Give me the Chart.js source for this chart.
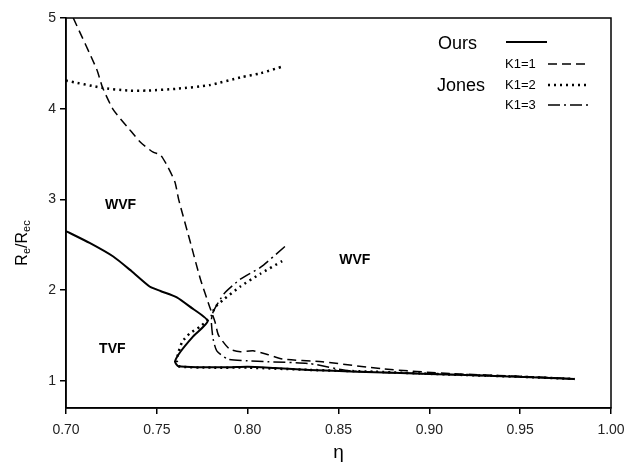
<!DOCTYPE html>
<html>
<head>
<meta charset="utf-8">
<script src="https://cdn.jsdelivr.net/npm/chart.js@4.4.1/dist/chart.umd.min.js"></script>
<style>
  html, body { margin: 0; padding: 0; background: #fff; }
</style>
</head>
<body>
<canvas id="chart" width="625" height="470"></canvas>
<script>
// axis ticks
const xTicks = [0.70, 0.75, 0.80, 0.85, 0.90, 0.95, 1.00];
const yTicks = [1, 2, 3, 4, 5];

// Ours (solid)
const oursEta = [0.700, 0.713, 0.726, 0.736, 0.746, 0.752, 0.761, 0.768, 0.778, 0.770, 0.763, 0.760, 0.762, 0.774, 0.790, 0.800, 0.815, 0.834, 0.860, 0.900, 0.940, 0.980];
const oursRe  = [2.65, 2.52, 2.37, 2.21, 2.04, 1.99, 1.92, 1.82, 1.66, 1.49, 1.32, 1.21, 1.16, 1.15, 1.15, 1.155, 1.14, 1.12, 1.10, 1.075, 1.05, 1.02];

// Jones K1=1 (dashed)
const k1Eta = [0.704, 0.717, 0.720, 0.726, 0.735, 0.741, 0.748, 0.752, 0.756, 0.760, 0.762, 0.768, 0.774, 0.779, 0.782, 0.784, 0.790, 0.796, 0.803, 0.811, 0.819, 0.841, 0.875, 0.911, 0.950, 0.980];
const k1Re  = [5.00, 4.43, 4.24, 3.99, 3.77, 3.63, 3.52, 3.49, 3.36, 3.19, 3.00, 2.56, 2.12, 1.82, 1.65, 1.50, 1.35, 1.32, 1.33, 1.29, 1.24, 1.21, 1.13, 1.08, 1.05, 1.02];

// Jones K1=2 (dotted), upper curve and lower branch
const k2TopEta = [0.700, 0.720, 0.734, 0.745, 0.761, 0.779, 0.797, 0.807, 0.820];
const k2TopRe  = [4.31, 4.23, 4.20, 4.20, 4.22, 4.26, 4.35, 4.39, 4.47];
const k2Eta = [0.819, 0.807, 0.796, 0.787, 0.782, 0.780, 0.774, 0.768, 0.764, 0.762, 0.761, 0.762, 0.780, 0.800, 0.834, 0.870, 0.910, 0.950, 0.980];
const k2Re  = [2.32, 2.18, 2.04, 1.90, 1.81, 1.71, 1.60, 1.52, 1.43, 1.32, 1.22, 1.16, 1.145, 1.145, 1.12, 1.10, 1.07, 1.045, 1.02];

// Jones K1=3 (dash-dot)
const k3Eta = [0.8205, 0.807, 0.796, 0.787, 0.781, 0.780, 0.781, 0.783, 0.789, 0.800, 0.811, 0.834, 0.856, 0.911, 0.950, 0.980];
const k3Re  = [2.48, 2.25, 2.12, 1.96, 1.76, 1.66, 1.46, 1.33, 1.24, 1.22, 1.21, 1.19, 1.11, 1.07, 1.045, 1.02];

// region labels
const regionText = ['WVF', 'TVF', 'WVF'];
const regionEta  = [0.730, 0.7255, 0.859];
const regionRe   = [2.94, 1.35, 2.33];

const FONT = '"Liberation Sans", Arial, sans-serif';

function pts(xs, ys) {
  return xs.map((x, i) => ({ x: x, y: ys[i] }));
}

function line(data, dash, width) {
  return {
    data: data,
    showLine: true,
    borderColor: '#000',
    borderWidth: width,
    borderDash: dash,
    pointRadius: 0,
    tension: 0.2,
    fill: false
  };
}

// frame round the plot area
const framePlugin = {
  id: 'frame',
  afterDatasetsDraw(chart) {
    const a = chart.chartArea;
    const ctx = chart.ctx;
    ctx.save();
    ctx.strokeStyle = '#000';
    ctx.lineWidth = 1.5;
    ctx.strokeRect(a.left, a.top, a.right - a.left, a.bottom - a.top);
    ctx.restore();
  }
};

// legend, region labels and the y title with subscripts
const textPlugin = {
  id: 'texts',
  afterDraw(chart) {
    const ctx = chart.ctx;
    const xs = chart.scales.x, ys = chart.scales.y;
    ctx.save();
    ctx.fillStyle = '#000';
    ctx.strokeStyle = '#000';

    // region labels
    ctx.font = 'bold 14px ' + FONT;
    ctx.textAlign = 'center';
    ctx.textBaseline = 'middle';
    regionText.forEach((t, i) => {
      ctx.fillText(t, xs.getPixelForValue(regionEta[i]), ys.getPixelForValue(regionRe[i]));
    });

    // legend
    ctx.textAlign = 'left';
    ctx.font = '18px ' + FONT;
    ctx.fillText('Ours', 438, 44);
    ctx.fillText('Jones', 437, 86);
    ctx.font = '13px ' + FONT;
    ctx.fillText('K1=1', 505, 64);
    ctx.fillText('K1=2', 505, 85);
    ctx.fillText('K1=3', 505, 105);

    const sample = (y, dash, w, x0, x1) => {
      ctx.beginPath();
      ctx.setLineDash(dash);
      ctx.lineWidth = w;
      ctx.moveTo(x0, y);
      ctx.lineTo(x1, y);
      ctx.stroke();
    };
    sample(42, [], 2, 506, 547);
    sample(64, [9, 5], 1.5, 548, 586);
    sample(85, [2, 4], 2.5, 548, 588);
    sample(105, [12, 4, 2, 4], 1.5, 548, 588);
    ctx.setLineDash([]);

    // y title: Re/Rec
    ctx.translate(23, (chart.chartArea.top + chart.chartArea.bottom) / 2 + 30);
    ctx.rotate(-Math.PI / 2);
    const parts = [['R', 16, 0], ['e', 11, 4], ['/R', 16, 0], ['ec', 11, 4]];
    let total = 0;
    parts.forEach(p => { ctx.font = p[1] + 'px ' + FONT; total += ctx.measureText(p[0]).width; });
    let x = -total / 2;
    ctx.textBaseline = 'middle';
    parts.forEach(p => {
      ctx.font = p[1] + 'px ' + FONT;
      ctx.fillText(p[0], x, p[2]);
      x += ctx.measureText(p[0]).width;
    });
    ctx.restore();
  }
};

new Chart(document.getElementById('chart'), {
  type: 'scatter',
  data: {
    datasets: [
      line(pts(oursEta, oursRe), [], 2),
      line(pts(k1Eta, k1Re), [9, 5], 1.5),
      line(pts(k2TopEta, k2TopRe), [2, 4], 2.5),
      line(pts(k2Eta, k2Re), [2, 4], 2.5),
      line(pts(k3Eta, k3Re), [12, 4, 2, 4], 1.5)
    ]
  },
  options: {
    responsive: false,
    animation: false,
    devicePixelRatio: 1,
    layout: { padding: { top: 18, right: 0, left: 0, bottom: 0 } },
    plugins: { legend: { display: false }, tooltip: { enabled: false } },
    scales: {
      x: {
        type: 'linear',
        min: 0.7,
        max: 1.0,
        afterBuildTicks: s => { s.ticks = xTicks.map(v => ({ value: v })); },
        afterFit: s => { s.height = 62; s.paddingLeft = 0; s.paddingRight = 14; },
        ticks: { callback: v => v.toFixed(2), font: { family: FONT, size: 14 }, color: '#222', padding: 8, maxRotation: 0 },
        grid: { drawOnChartArea: false, tickLength: 6, color: '#000', lineWidth: 1.5 },
        border: { color: '#000', width: 1.5 },
        title: { display: true, text: 'η', font: { family: FONT, size: 19 }, color: '#000', padding: { top: 2, bottom: 6 } }
      },
      y: {
        type: 'linear',
        min: 0.7,
        max: 5,
        afterBuildTicks: s => { s.ticks = yTicks.map(v => ({ value: v })); },
        afterFit: s => { s.width = 66; },
        ticks: { font: { family: FONT, size: 14 }, color: '#222', padding: 4 },
        grid: { drawOnChartArea: false, tickLength: 6, color: '#000', lineWidth: 1.5 },
        border: { color: '#000', width: 1.5 }
      }
    }
  },
  plugins: [framePlugin, textPlugin]
});
</script>
</body>
</html>
